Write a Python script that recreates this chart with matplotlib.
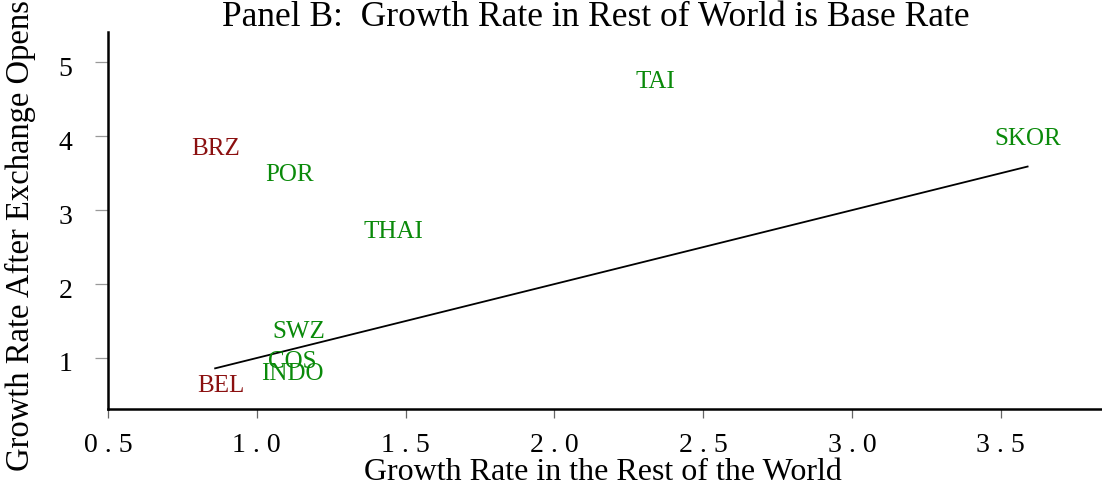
import matplotlib
matplotlib.use("Agg")
import matplotlib.pyplot as plt
from matplotlib.transforms import ScaledTranslation

countries = ["TAI", "SKOR", "BRZ", "POR", "THAI", "SWZ", "COS", "INDO", "BEL"]
x_rest = [2.34, 3.59, 0.86, 1.11, 1.46, 1.14, 1.12, 1.12, 0.88]
y_after = [4.73, 3.96, 3.83, 3.47, 2.71, 1.35, 0.95, 0.78, 0.62]
groups = ["g", "g", "r", "g", "g", "g", "g", "g", "r"]
line_x = [0.86, 3.59]
line_y = [0.86, 3.59]
xticks = [0.5, 1.0, 1.5, 2.0, 2.5, 3.0, 3.5]
xticklabels = ["0 . 5", "1 . 0", "1 . 5", "2 . 0", "2 . 5", "3 . 0", "3 . 5"]
yticks = [1, 2, 3, 4, 5]

colors = {"g": "#0a8a0a", "r": "#8b1010"}

plt.rcParams['font.family'] = ['Liberation Serif', 'DejaVu Serif']

W, H = 1102, 491
fig = plt.figure(figsize=(W / 100, H / 100), dpi=100)
ax = fig.add_axes([108 / W, (H - 409) / H, 1 - 108 / W, (409 - 32) / H])
ax.set_xlim(0.5, 3.84)
ax.set_ylim(0.31, 5.41)

for c, x, y, g in zip(countries, x_rest, y_after, groups):
    ax.text(x, y, c, color=colors[g], fontsize=18, ha="center", va="center")

ax.plot(line_x, line_y, color="black", lw=1.3)

ax.spines["top"].set_visible(False)
ax.spines["right"].set_visible(False)
ax.spines["left"].set_linewidth(1.8)
ax.spines["bottom"].set_linewidth(1.8)
ax.set_xticks(xticks)
ax.set_xticklabels(xticklabels)
ax.set_yticks(yticks)
ax.tick_params(axis="x", length=6.5, width=0.9, color="#666666", labelsize=20, pad=11)
ax.tick_params(axis="y", length=9.5, width=0.9, color="#999999", labelsize=20, pad=16)
for lbl in ax.get_yticklabels():
    lbl.set_transform(lbl.get_transform() + ScaledTranslation(0, -4 / 100, fig.dpi_scale_trans))

fig.text(596 / W, 1 - 17 / H, "Panel B:  Growth Rate in Rest of World is Base Rate",
         fontsize=25.5, ha="center", va="center")
fig.text(603 / W, 1 - 472 / H, "Growth Rate in the Rest of the World", fontsize=23,
         ha="center", va="center")
fig.text(20 / W, 1 - 236 / H, "Growth Rate After Exchange Opens", fontsize=23.5,
         ha="center", va="center", rotation=90)

fig.savefig("out.png", dpi=100)
